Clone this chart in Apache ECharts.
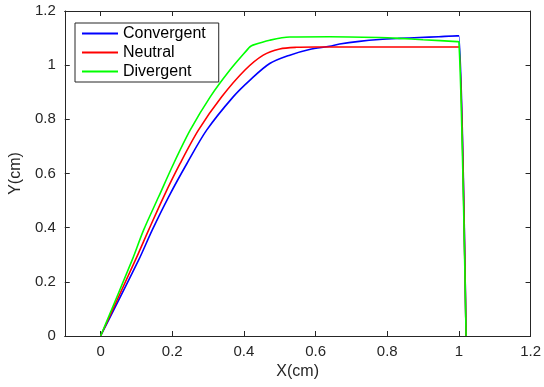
<!DOCTYPE html>
<html>
<head>
<meta charset="utf-8">
<script src="https://cdn.jsdelivr.net/npm/echarts@6/dist/echarts.min.js"></script>
<style>
html,body{margin:0;padding:0;background:#fff;}
#chart{width:544px;height:387px;}
</style>
</head>
<body>
<div id="chart"></div>
<script>
var seriesNames = ['Convergent', 'Neutral', 'Divergent'];
var seriesColors = ['#0000ff', '#ff0000', '#00ff00'];

var convergentX = [0, 0.106, 0.144, 0.190, 0.241, 0.296, 0.370, 0.417, 0.472, 0.528, 0.583, 0.639, 0.667, 0.722, 0.778, 0.833, 0.889, 0.944, 0.995, 1.0, 1.02];
var convergentY = [0, 0.280, 0.391, 0.514, 0.637, 0.760, 0.883, 0.945, 1.006, 1.037, 1.058, 1.070, 1.078, 1.088, 1.095, 1.099, 1.102, 1.105, 1.108, 1.108, 0];

var neutralX = [0, 0.097, 0.134, 0.176, 0.222, 0.273, 0.338, 0.403, 0.454, 0.500, 0.546, 0.600, 0.800, 0.995, 1.0, 1.02];
var neutralY = [0, 0.280, 0.391, 0.514, 0.637, 0.760, 0.883, 0.982, 1.037, 1.060, 1.066, 1.067, 1.067, 1.067, 1.067, 0];

var divergentX = [0, 0.088, 0.120, 0.162, 0.204, 0.250, 0.306, 0.361, 0.412, 0.417, 0.425, 0.472, 0.528, 0.639, 0.778, 0.833, 0.900, 0.995, 1.0, 1.02];
var divergentY = [0, 0.280, 0.391, 0.514, 0.637, 0.760, 0.883, 0.982, 1.061, 1.068, 1.074, 1.092, 1.104, 1.105, 1.102, 1.099, 1.094, 1.087, 1.086, 0];

var xTicks = [0, 0.2, 0.4, 0.6, 0.8, 1, 1.2];
var xMin = -0.1, xMax = 1.2;
var yMin = 0, yMax = 1.2, yStep = 0.2;

function pairs(xs, ys) {
  var out = [];
  for (var i = 0; i < xs.length; i++) out.push([xs[i], ys[i]]);
  return out;
}
var allX = [convergentX, neutralX, divergentX];
var allY = [convergentY, neutralY, divergentY];

var axisColor = '#262626';
var font = 'Liberation Sans, Arial, Helvetica, sans-serif';
function fmt(v) { return String(Math.round(v * 100) / 100); }

var chart = echarts.init(document.getElementById('chart'), null, {renderer: 'canvas'});
var option = {
  animation: false,
  backgroundColor: '#ffffff',
  grid: {left: 63, right: 12, top: 11, bottom: 51, containLabel: false},
  legend: {
    left: 75, top: 23,
    orient: 'vertical',
    data: seriesNames.map(function (n) { return {name: n, icon: 'rect'}; }),
    itemWidth: 36, itemHeight: 2, itemGap: 0,
    padding: [1, 13, 1, 7],
    borderColor: axisColor, borderWidth: 1, backgroundColor: '#ffffff',
    textStyle: {fontFamily: font, fontSize: 16, color: '#000', lineHeight: 19}
  },
  xAxis: [{
    type: 'value', min: xMin, max: xMax,
    name: 'X(cm)', nameLocation: 'middle', nameGap: 27,
    nameTextStyle: {fontFamily: font, fontSize: 16, color: axisColor},
    axisLine: {show: true, onZero: false, lineStyle: {color: axisColor, width: 1}},
    axisTick: {show: true, inside: true, length: 5, customValues: xTicks, lineStyle: {color: axisColor}},
    axisLabel: {show: true, customValues: xTicks, margin: 8, formatter: fmt, fontFamily: font, fontSize: 15, color: axisColor},
    splitLine: {show: false}
  }, {
    type: 'value', min: xMin, max: xMax, position: 'top',
    axisLine: {show: true, onZero: false, lineStyle: {color: axisColor, width: 1}},
    axisTick: {show: true, inside: true, length: 5, customValues: xTicks, lineStyle: {color: axisColor}},
    axisLabel: {show: false},
    splitLine: {show: false}
  }],
  yAxis: [{
    type: 'value', min: yMin, max: yMax, interval: yStep,
    name: 'Y(cm)', nameLocation: 'middle', nameGap: 36, nameRotate: 90,
    nameTextStyle: {fontFamily: font, fontSize: 16, color: axisColor},
    axisLine: {show: true, onZero: false, lineStyle: {color: axisColor, width: 1}},
    axisTick: {show: true, inside: true, length: 5, lineStyle: {color: axisColor}},
    axisLabel: {show: true, margin: 9, formatter: fmt, fontFamily: font, fontSize: 15, color: axisColor},
    splitLine: {show: false}
  }, {
    type: 'value', min: yMin, max: yMax, interval: yStep, position: 'right',
    axisLine: {show: true, onZero: false, lineStyle: {color: axisColor, width: 1}},
    axisTick: {show: true, inside: true, length: 5, lineStyle: {color: axisColor}},
    axisLabel: {show: false},
    splitLine: {show: false}
  }],
  series: seriesNames.map(function (n, i) {
    return {
      name: n, type: 'line', xAxisIndex: 0, yAxisIndex: 0,
      data: pairs(allX[i], allY[i]),
      symbol: 'none', smooth: 0.3,
      lineStyle: {color: seriesColors[i], width: 1.6},
      itemStyle: {color: seriesColors[i]},
      z: 2 + i
    };
  })
};
chart.setOption(option);
</script>
</body>
</html>
